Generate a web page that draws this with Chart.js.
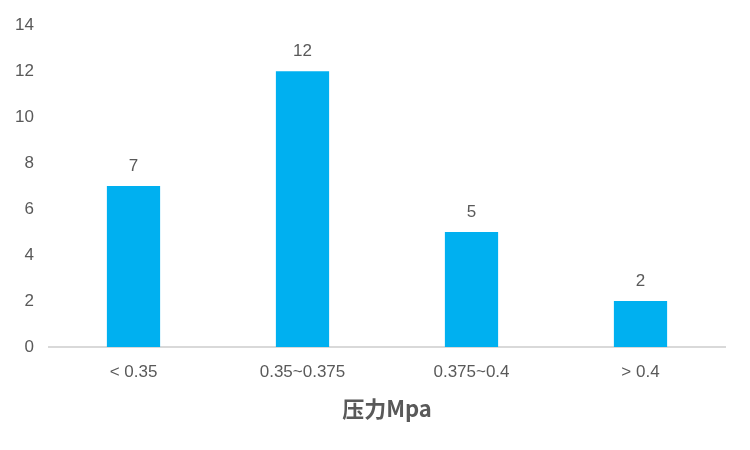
<!DOCTYPE html>
<html>
<head>
<meta charset="utf-8">
<script src="https://cdn.jsdelivr.net/npm/chart.js@4"></script>
<style>
    html, body { margin: 0; padding: 0; background: #fff; }
    #wrap { width: 750px; height: 450px; }
</style>
</head>
<body>
<div id="wrap"><canvas id="chart"></canvas></div>
<script>
const categories = ['< 0.35', '0.35~0.375', '0.375~0.4', '> 0.4'];
const counts = [7, 12, 5, 2];
const yTicks = [0, 2, 4, 6, 8, 10, 12, 14];

const textColor = '#595959';
const fontFamily = '"Liberation Sans", Arial, sans-serif';

// draws the count above each bar
const barLabels = {
    id: 'barLabels',
    afterDatasetsDraw(chart) {
        const ctx = chart.ctx;
        const meta = chart.getDatasetMeta(0);
        ctx.save();
        ctx.fillStyle = textColor;
        ctx.font = '17px ' + fontFamily;
        ctx.textAlign = 'center';
        ctx.textBaseline = 'bottom';
        meta.data.forEach((bar, i) => {
            ctx.fillText(String(counts[i]), bar.x, bar.y - 11);
        });
        ctx.restore();
    }
};

new Chart(document.getElementById('chart').getContext('2d'), {
    type: 'bar',
    data: {
        labels: categories,
        datasets: [{
            data: counts,
            backgroundColor: '#00B0F0',
            borderWidth: 0,
            categoryPercentage: 1,
            barPercentage: 0.315
        }]
    },
    options: {
        responsive: true,
        maintainAspectRatio: false,
        animation: false,
        layout: { padding: { top: 11, right: 25, left: 0, bottom: 0 } },
        plugins: {
            legend: { display: false },
            tooltip: { enabled: false }
        },
        scales: {
            x: {
                grid: { display: false, drawTicks: false },
                border: { color: '#D9D9D9', width: 2 },
                ticks: {
                    color: textColor,
                    font: { size: 17, family: fontFamily },
                    padding: 15
                },
                title: {
                    display: true,
                    text: '压力Mpa',
                    color: textColor,
                    font: { size: 22, weight: 'bold', family: '"Noto Sans CJK SC", sans-serif' },
                    padding: { top: 10, bottom: 28 }
                },
                afterFit(scale) { scale.height = 103; }
            },
            y: {
                min: 0,
                max: 14,
                afterBuildTicks(scale) { scale.ticks = yTicks.map(v => ({ value: v })); },
                grid: { display: false, drawTicks: false },
                border: { display: false },
                ticks: {
                    color: textColor,
                    font: { size: 17, family: fontFamily },
                    padding: 15
                },
                afterFit(scale) { scale.width = 49; }
            }
        }
    },
    plugins: [barLabels]
});
</script>
</body>
</html>
